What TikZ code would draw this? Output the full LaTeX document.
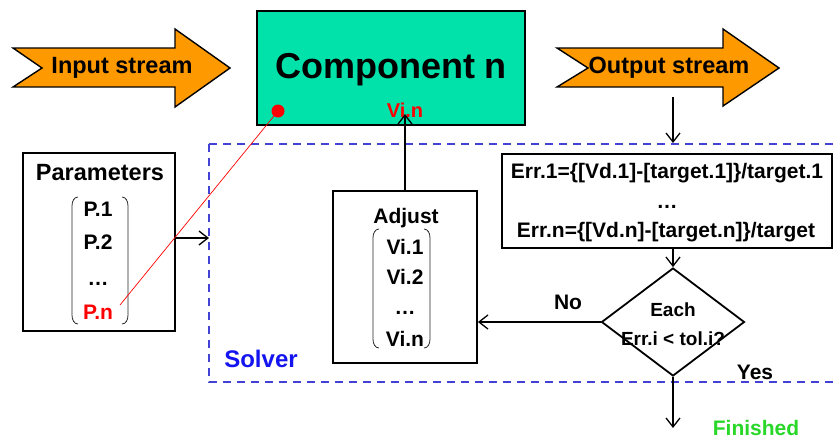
\documentclass[tikz,border=0pt]{standalone}
\usepackage{fontspec}
\setmainfont{Liberation Sans}
\usetikzlibrary{arrows.meta,shapes.geometric}
\definecolor{compgreen}{RGB}{0,226,170}
\definecolor{streamorange}{RGB}{255,153,0}
\definecolor{solverblue}{RGB}{66,66,212}
\definecolor{solvertext}{RGB}{20,20,240}
\definecolor{finishgreen}{RGB}{40,215,40}
\newcommand{\txtsize}[1]{\fontsize{#1}{#1}\selectfont\bfseries}

\begin{document}
\begin{tikzpicture}[x=1pt, y=-1pt,
  every node/.style={font=\txtsize{21}, inner sep=0pt},
  box/.style={draw=black, line width=1.8pt},
  conn/.style={line width=1.3pt, -{Straight Barb[length=9pt,width=14pt]}},
  stream/.style={draw=black, line width=1.4pt, fill=streamorange, line join=miter},
  paren/.style={draw=black!85, line width=0.8pt}]
\useasboundingbox (0,0) rectangle (835,442);

% streams and component
\draw[stream] (13,48) -- (175,48) -- (175,29) -- (230,68) -- (175,107) -- (175,87) -- (13,87) -- (42,68) -- cycle;
\node[font=\txtsize{23.5}] (instream) at (122,68) {Input stream};
\draw[stream] (557,48) -- (723,48) -- (723,29) -- (779,68) -- (723,106) -- (723,87) -- (557,87) -- (588,68) -- cycle;
\node[font=\txtsize{23.5}] (outstream) at (669,68) {Output stream};
\coordinate (outbase) at (673,97);

\node[box, line width=2.4pt, fill=compgreen, minimum width=268pt, minimum height=114pt] (comp) at (391,68) {};
\node[font=\txtsize{36}] (comptitle) at (391,70) {Component n};
\node[red, font=\txtsize{20}] (vin) at (405,110) {Vi.n};
\coordinate (vitip) at (405,114);
\coordinate (dot) at (278,111);
\fill[red] (dot) circle (6.5);

% solver
\draw[solverblue, line width=1.5pt, dash pattern=on 8pt off 6pt] (209,144) rectangle (850,382);
\node[solvertext, font=\txtsize{24}] (solver) at (261,359) {Solver};
\coordinate (solverin) at (209,238);
\coordinate (errin) at (673,143);

% parameters
\node[box, minimum width=152pt, minimum height=178pt] (params) at (99,242) {};
\node[font=\txtsize{23.5}] (partitle) at (100,173) {Parameters};
\node (p1) at (98,209) {P.1};
\node (p2) at (98,242) {P.2};
\node (pdots) at (98,284) {\dots};
\node[red] (pn) at (98,312) {P.n};
\coordinate (pnend) at (120,305);

% adjust
\node[box, minimum width=144pt, minimum height=172pt] (adjust) at (405,277) {};
\node (adjtitle) at (406,218) {Adjust};
\node (vi1) at (405,247) {Vi.1};
\node (vi2) at (405,277) {Vi.2};
\node (vidots) at (405,313) {\dots};
\node (vin2) at (405,339) {Vi.n};

\foreach \xl/\xr/\yt/\yb in {72/128/197/324, 373/430/229/348} {
  \draw[paren] (\xl+6,\yt) to[out=180,in=90] (\xl,\yt+9) -- (\xl,\yb-9) to[out=-90,in=180] (\xl+6,\yb);
  \draw[paren] (\xr-6,\yt) to[out=0,in=90] (\xr,\yt+9) -- (\xr,\yb-9) to[out=-90,in=0] (\xr-6,\yb);
}

% error and check
\node[box, minimum width=330pt, minimum height=94pt] (err) at (667,201) {};
\node (err1) at (667,173) {Err.1=\{[Vd.1]-[target.1]\}/target.1};
\node (errdots) at (667,207) {\dots};
\node (errn) at (666,232) {Err.n=\{[Vd.n]-[target.n]\}/target};

\node[box, diamond, minimum width=143pt, minimum height=108pt] (check) at (673,322) {};
\node[font=\txtsize{19}] (each) at (673,310) {Each};
\node[font=\txtsize{19}] (tol) at (673,339) {Err.i < tol.i?};
\node (no) at (568,302) {No};
\node (yes) at (755,372) {Yes};
\coordinate (finish) at (673,428);
\node[finishgreen] (finished) at (756,428) {Finished};

% connectors
\draw[red, line width=0.7pt] (dot) -- (pnend);
\draw[conn] (params.east |- solverin) -- (solverin);
\draw[conn] (adjust.north) -- (vitip);
\draw[conn] (outbase) -- (errin);
\draw[conn] (check.north |- err.south) -- (check.north);
\draw[conn] (check.west) -- (adjust.east |- check.west);
\draw[conn] (check.south) -- (finish);
\end{tikzpicture}
\end{document}
